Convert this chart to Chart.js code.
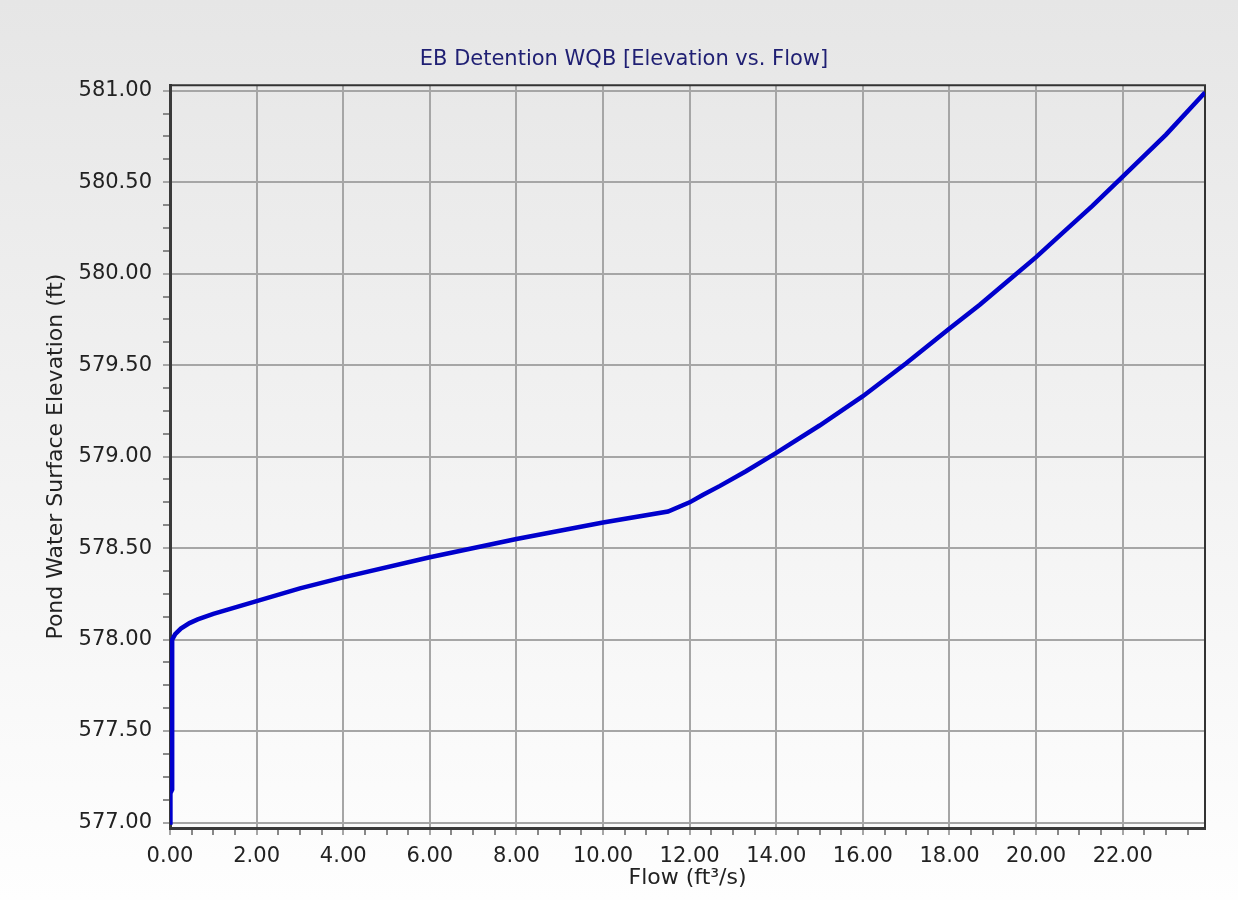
<!DOCTYPE html>
<html><head><meta charset="utf-8">
<script src="https://cdn.jsdelivr.net/npm/chart.js@4.4.0/dist/chart.umd.min.js"></script>
<style>
html,body{margin:0;padding:0;}
body{width:1238px;height:900px;background:linear-gradient(#e6e6e6,#fefefe);overflow:hidden}
#wrap{width:1238px;height:900px;position:relative}
canvas{display:block}
</style></head><body><div id="wrap"><canvas id="c" width="1238" height="900"></canvas></div>
<script>
// ---- data ----
const flow = [0, 0.01, 0.05, 0.05, 0.12, 0.25, 0.45, 0.64, 1.0, 2.0, 3.0, 4.0, 6.0, 8.0, 10.0, 11.5, 12.0, 12.3, 12.7, 13.3, 14.0, 15.0, 16.0, 17.0, 18.0, 18.7, 19.3, 20.0, 20.6, 21.3, 22.0, 23.0, 23.9];
const elevation = [577.00, 577.16, 577.18, 578.00, 578.03, 578.06, 578.09, 578.11, 578.14, 578.21, 578.28, 578.34, 578.45, 578.55, 578.64, 578.70, 578.75, 578.79, 578.84, 578.92, 579.02, 579.17, 579.33, 579.51, 579.70, 579.83, 579.95, 580.09, 580.22, 580.37, 580.53, 580.76, 580.99];
const xMajorTicks = [0, 2, 4, 6, 8, 10, 12, 14, 16, 18, 20, 22];
const yMajorTicks = [577, 577.5, 578, 578.5, 579, 579.5, 580, 580.5, 581];
const xMinorStep = 0.5;
const yMinorStep = 0.125;
const xRange = [0, 23.9];
const yRange = [576.97, 581.03];
const chartTitle = 'EB Detention WQB [Elevation vs. Flow]';
const xTitle = 'Flow (ft³/s)';
const yTitle = 'Pond Water Surface Elevation (ft)';

function stepTicks(lo, hi, step) {
  const out = [];
  const n0 = Math.ceil(lo / step - 1e-9), n1 = Math.floor(hi / step + 1e-9);
  for (let n = n0; n <= n1; n++) out.push(+(n * step).toFixed(4));
  return out;
}
const isMajor = (arr, v) => arr.some(m => Math.abs(m - v) < 1e-6);

const FONT = 'DejaVu Sans';
const frame = {
  id: 'frame',
  beforeDatasetsDraw(chart) {
    const {ctx, chartArea: a} = chart;
    ctx.save();
    ctx.strokeStyle = '#333333';
    ctx.lineWidth = 2;
    ctx.beginPath();
    ctx.moveTo(a.left, a.top); ctx.lineTo(a.right, a.top); ctx.lineTo(a.right, a.bottom);
    ctx.stroke();
    ctx.restore();
  }
};

new Chart(document.getElementById('c'), {
  type: 'line',
  data: {
    datasets: [{
      data: flow.map((f, i) => ({x: f, y: elevation[i]})),
      borderColor: '#0000cc',
      borderWidth: 4.5,
      pointRadius: 0,
      tension: 0,
      fill: false
    }]
  },
  options: {
    responsive: false,
    animation: false,
    devicePixelRatio: 1,
    layout: {padding: {top: 0, left: 43, right: 33, bottom: 0}},
    plugins: {
      legend: {display: false},
      tooltip: {enabled: false},
      title: {
        display: true, text: chartTitle, color: '#1f1f73',
        font: {family: FONT, size: 21, weight: 'normal'},
        padding: {top: 47, bottom: 13}
      }
    },
    scales: {
      x: {
        type: 'linear', min: xRange[0], max: xRange[1],
        afterBuildTicks: s => { s.ticks = stepTicks(xRange[0], xRange[1], xMinorStep).map(v => ({value: v})); },
        afterFit: s => { s.height = 72; },
        ticks: {
          autoSkip: false, maxRotation: 0, padding: 9, color: '#222',
          font: {family: FONT, size: 21},
          callback: v => isMajor(xMajorTicks, v) ? v.toFixed(2) : ''
        },
        grid: {
          color: c => (c.tick && isMajor(xMajorTicks, c.tick.value)) ? '#a6a6a6' : 'rgba(0,0,0,0)',
          tickColor: c => (c.tick && isMajor(xMajorTicks, c.tick.value)) ? '#a6a6a6' : '#888888',
          lineWidth: 2, tickLength: 7
        },
        border: {display: true, color: '#3a3a3a', width: 3},
        title: {display: true, text: xTitle, color: '#222', font: {family: FONT, size: 22}, padding: {top: 0, bottom: 9}}
      },
      y: {
        type: 'linear', min: yRange[0], max: yRange[1],
        afterBuildTicks: s => { s.ticks = stepTicks(yRange[0], yRange[1], yMinorStep).map(v => ({value: v})); },
        afterFit: s => { s.width = 127; },
        ticks: {
          autoSkip: false, padding: 11, color: '#222',
          font: {family: FONT, size: 21},
          callback: v => isMajor(yMajorTicks, v) ? v.toFixed(2) : ''
        },
        grid: {
          color: c => (c.tick && isMajor(yMajorTicks, c.tick.value)) ? '#a6a6a6' : 'rgba(0,0,0,0)',
          tickColor: c => (c.tick && isMajor(yMajorTicks, c.tick.value)) ? '#a6a6a6' : '#888888',
          lineWidth: 2, tickLength: 7
        },
        border: {display: true, color: '#3a3a3a', width: 3},
        title: {display: true, text: yTitle, color: '#222', font: {family: FONT, size: 22}, padding: {top: 0, bottom: 0}}
      }
    }
  },
  plugins: [frame]
});
</script></body></html>
